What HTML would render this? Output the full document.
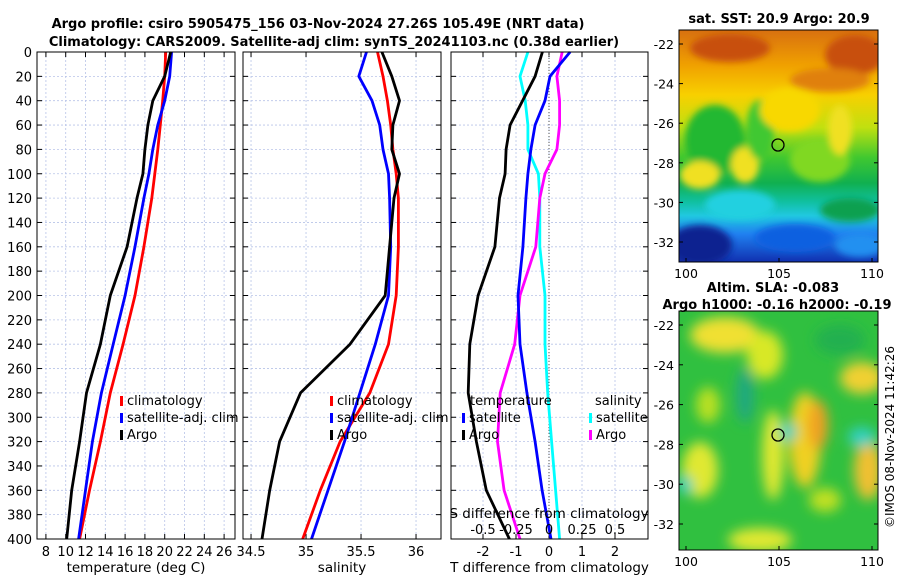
<!DOCTYPE html>
<html><head><meta charset="utf-8"><style>
body{margin:0;background:#fff;width:900px;height:580px;overflow:hidden;font-family:"Liberation Sans","DejaVu Sans",sans-serif}
svg text{font-family:"DejaVu Sans","Liberation Sans",sans-serif}
</style></head><body>
<svg id="chart" width="900" height="580" xmlns="http://www.w3.org/2000/svg">
<defs>
<filter id="blur1" x="-20%" y="-20%" width="140%" height="140%"><feGaussianBlur stdDeviation="3.5"/></filter>
<filter id="blur2" x="-20%" y="-20%" width="140%" height="140%"><feGaussianBlur stdDeviation="6"/></filter>
<clipPath id="c1"><rect x="679" y="30" width="199" height="232"/></clipPath>
<clipPath id="c2"><rect x="679" y="311" width="199" height="239"/></clipPath>
<linearGradient id="sstg" x1="0" y1="0" x2="0" y2="1">
<stop offset="0" stop-color="#d87010"/><stop offset="0.15" stop-color="#f0a000"/><stop offset="0.28" stop-color="#f8d000"/>
<stop offset="0.42" stop-color="#c0e010"/><stop offset="0.55" stop-color="#40c830"/><stop offset="0.66" stop-color="#10b050"/>
<stop offset="0.74" stop-color="#10c0a0"/><stop offset="0.8" stop-color="#20c8e0"/><stop offset="0.88" stop-color="#2080f0"/><stop offset="1" stop-color="#1030b0"/>
</linearGradient>
</defs>
<text x="318" y="28" text-anchor="middle" font-size="13" font-weight="bold">Argo profile: csiro 5905475_156 03-Nov-2024 27.26S 105.49E (NRT data)</text>
<text x="334" y="46" text-anchor="middle" font-size="13" font-weight="bold">Climatology: CARS2009. Satellite-adj clim: synTS_20241103.nc (0.38d earlier)</text>
<g id="panels"></g>
<g clip-path="url(#c1)">
<rect x="679" y="30" width="199" height="232" fill="url(#sstg)"/>
<g filter="url(#blur1)">
<ellipse cx="715" cy="140" rx="30" ry="35" fill="#20b830"/>
<ellipse cx="700" cy="175" rx="20" ry="14" fill="#f0e020"/>
<ellipse cx="745" cy="165" rx="14" ry="18" fill="#f0e020"/>
<ellipse cx="760" cy="130" rx="14" ry="30" fill="#40c830"/>
<ellipse cx="820" cy="160" rx="30" ry="22" fill="#80d820"/>
<ellipse cx="840" cy="130" rx="12" ry="25" fill="#f0e020"/>
<ellipse cx="790" cy="110" rx="30" ry="22" fill="#f8d800"/>
<ellipse cx="730" cy="48" rx="40" ry="14" fill="#c85010"/>
<ellipse cx="855" cy="55" rx="30" ry="20" fill="#c85010"/>
<ellipse cx="830" cy="80" rx="40" ry="12" fill="#e08008"/>
<ellipse cx="740" cy="205" rx="35" ry="15" fill="#20d0e0"/>
<ellipse cx="795" cy="238" rx="40" ry="14" fill="#1060e0"/>
<ellipse cx="700" cy="245" rx="32" ry="20" fill="#0a2090"/>
<ellipse cx="850" cy="210" rx="30" ry="12" fill="#10a050"/>
<ellipse cx="860" cy="245" rx="25" ry="12" fill="#2090f0"/>
</g>
</g>
<rect x="679" y="30" width="199" height="232" fill="none" stroke="#000" stroke-width="1"/>
<circle cx="778" cy="145" r="6" fill="none" stroke="#000" stroke-width="1.3"/>
<text x="779" y="23" text-anchor="middle" font-size="13" font-weight="bold">sat. SST: 20.9 Argo: 20.9</text>
<g clip-path="url(#c2)">
<rect x="679" y="311" width="199" height="239" fill="#30c040"/>
<g filter="url(#blur2)">
<ellipse cx="725" cy="335" rx="35" ry="18" fill="#f0e030"/>
<ellipse cx="765" cy="355" rx="18" ry="24" fill="#d8e828"/>
<ellipse cx="700" cy="470" rx="18" ry="28" fill="#e0e830"/>
<ellipse cx="708" cy="405" rx="12" ry="18" fill="#b8e020"/>
<ellipse cx="773" cy="455" rx="11" ry="45" fill="#e0e830"/>
<ellipse cx="805" cy="440" rx="16" ry="48" fill="#f0d020"/>
<ellipse cx="818" cy="425" rx="10" ry="25" fill="#f0a020"/>
<ellipse cx="862" cy="378" rx="22" ry="16" fill="#f0d030"/>
<ellipse cx="868" cy="470" rx="14" ry="30" fill="#f0c030"/>
<ellipse cx="760" cy="540" rx="32" ry="12" fill="#e0e830"/>
<ellipse cx="825" cy="500" rx="16" ry="12" fill="#c0e020"/>
<ellipse cx="745" cy="395" rx="9" ry="28" fill="#20a880"/>
<ellipse cx="788" cy="432" rx="9" ry="9" fill="#30d0c0"/>
<ellipse cx="862" cy="437" rx="14" ry="10" fill="#30d0c0"/>
<ellipse cx="685" cy="485" rx="8" ry="9" fill="#30d0c0"/>
<ellipse cx="840" cy="340" rx="25" ry="15" fill="#20b050"/>
</g>
</g>
<rect x="679" y="311" width="199" height="239" fill="none" stroke="#000" stroke-width="1"/>
<circle cx="778" cy="435" r="6" fill="none" stroke="#000" stroke-width="1.3"/>
<text x="773" y="292" text-anchor="middle" font-size="13" font-weight="bold">Altim. SLA: -0.083</text>
<text x="777" y="309" text-anchor="middle" font-size="13" font-weight="bold">Argo h1000: -0.16 h2000: -0.19</text>
<text transform="translate(894,437) rotate(-90)" text-anchor="middle" font-size="12">©IMOS 08-Nov-2024 11:42:26</text>
<g id="maps"></g>
</svg>
<script>
const depthT = [0,20,40,60,80,100,120,160,200,240,280,320,360,400];
const tempClim = [20.1,20.0,19.8,19.55,19.3,19.0,18.7,17.9,17.0,15.8,14.5,13.5,12.4,11.4];
const tempSat  = [20.7,20.5,20.0,19.3,18.8,18.4,17.9,17.0,16.0,14.8,13.6,12.7,12.0,11.3];
const tempArgo = [20.6,20.0,18.8,18.3,18.0,17.8,17.2,16.2,14.5,13.5,12.1,11.4,10.6,10.1];
const salClim = [35.65,35.70,35.74,35.77,35.79,35.82,35.84,35.84,35.82,35.75,35.58,35.31,35.13,34.97];
const salSat  = [35.55,35.48,35.60,35.67,35.70,35.75,35.76,35.77,35.75,35.63,35.49,35.35,35.20,35.05];
const salArgo = [35.69,35.78,35.85,35.79,35.78,35.85,35.80,35.76,35.72,35.40,34.95,34.76,34.67,34.60];
const tDiffSat  = [0.64,0.03,-0.12,-0.42,-0.55,-0.64,-0.70,-0.79,-0.94,-0.88,-0.67,-0.42,-0.21,0.06];
const tDiffArgo = [-0.2,-0.42,-0.8,-1.18,-1.3,-1.33,-1.5,-1.64,-2.15,-2.4,-2.45,-2.2,-1.9,-1.2];
const sDiffSat  = [-0.16,-0.22,-0.18,-0.16,-0.16,-0.08,-0.07,-0.07,-0.03,-0.03,-0.01,0.02,0.05,0.08];
const sDiffArgo = [0.1,0.06,0.08,0.08,0.06,-0.03,-0.07,-0.10,-0.22,-0.26,-0.37,-0.39,-0.34,-0.22];
const depthTicks = [0,20,40,60,80,100,120,140,160,180,200,220,240,260,280,300,320,340,360,380,400];
const tempTicks = [8,10,12,14,16,18,20,22,24,26];
const salTicks = [34.5,35,35.5,36];
const salTickLabels = ['34.5','35','35.5','36'];
const tdTicks = [-2,-1,0,1,2];
const sdTicks = [-0.5,-0.25,0,0.25,0.5];
const lonTicks = [100,105,110];
const latTicks = [-22,-24,-26,-28,-30,-32];

const NS='http://www.w3.org/2000/svg';
const Y0=52, Y1=539;
const yD = d => Y0 + (d/400)*(Y1-Y0);
function mk(tag, attrs, parent, text){const e=document.createElementNS(NS,tag);for(const k in attrs)e.setAttribute(k,attrs[k]);if(text!==undefined)e.textContent=text;parent.appendChild(e);return e;}
const G=document.getElementById('panels');
const panels=[
 {x0:37,x1:235,min:7.1,max:27.1,ticks:tempTicks,labels:tempTicks.map(String),xlabel:'temperature (deg C)',name:'temperature'},
 {x0:243,x1:441,min:34.427,max:36.227,ticks:salTicks,labels:salTickLabels,xlabel:'salinity',name:'salinity'},
 {x0:451,x1:648,min:-2.97,max:3.0,ticks:tdTicks,labels:tdTicks.map(String),xlabel:'T difference from climatology',name:'difference'}
];
panels.forEach((p,i)=>{
  p.sx = v => p.x0 + (v-p.min)/(p.max-p.min)*(p.x1-p.x0);
  const g=mk('g',{},G);
  
  
  depthTicks.forEach(d=>{
    const l=mk('line',{x1:p.x0,x2:p.x1,y1:yD(d),y2:yD(d),stroke:'#b8c4e8','stroke-width':0.8,'stroke-dasharray':'2,2'},g);
    
    
    mk('line',{x1:p.x0,x2:p.x0+5,y1:yD(d),y2:yD(d),stroke:'#000'},g);
    mk('line',{x1:p.x1,x2:p.x1-5,y1:yD(d),y2:yD(d),stroke:'#000'},g);
    if(i===0){const t=mk('text',{x:p.x0-5,y:yD(d)+5,'text-anchor':'end','font-size':13},g,String(d));
      
      }
  });
  p.ticks.forEach((v,k)=>{
    const x=p.sx(v);
    const l=mk('line',{x1:x,x2:x,y1:Y0,y2:Y1,stroke:'#b8c4e8','stroke-width':0.8,'stroke-dasharray':'2,2'},g);
    
    
    mk('line',{x1:x,x2:x,y1:Y1,y2:Y1-5,stroke:'#000'},g);
    mk('line',{x1:x,x2:x,y1:Y0,y2:Y0+5,stroke:'#000'},g);
    const t=mk('text',{x:x,y:Y1+17,'text-anchor':'middle','font-size':13},g,p.labels[k]);
    
    
  });
  const xl=mk('text',{x:(p.x0+p.x1)/2,y:572,'text-anchor':'middle','font-size':13.5},g,p.xlabel);
  
  
  p.g=g;
});
function line(p,vals,depths,color,name,fn){
  const sx=fn||p.sx;
  const pts=vals.map((v,i)=>sx(v).toFixed(1)+','+yD(depths[i]).toFixed(1)).join(' ');
  const e=mk('polyline',{points:pts,fill:'none',stroke:color,'stroke-width':2.8,'stroke-linejoin':'round'},p.g);
  
  
}
const P0=panels[0],P1=panels[1],P2=panels[2];
const zl=mk('line',{x1:P2.sx(0),x2:P2.sx(0),y1:Y0,y2:Y1,stroke:'#555','stroke-width':1,'stroke-dasharray':'1,2'},P2.g);


line(P0,tempClim,depthT,'#ff0000','temp-climatology-line');
line(P0,tempSat,depthT,'#0000ff','temp-satellite-line');
line(P0,tempArgo,depthT,'#000','temp-argo-line');
line(P1,salClim,depthT,'#ff0000','sal-climatology-line');
line(P1,salSat,depthT,'#0000ff','sal-satellite-line');
line(P1,salArgo,depthT,'#000','sal-argo-line');
const sdx = v => P2.sx(v*4);
line(P2,sDiffSat,depthT,'#00ffff','sdiff-satellite-line',sdx);
line(P2,sDiffArgo,depthT,'#ff00ff','sdiff-argo-line',sdx);
line(P2,tDiffSat,depthT,'#0000ff','tdiff-satellite-line');
line(P2,tDiffArgo,depthT,'#000','tdiff-argo-line');
sdTicks.forEach(v=>{
  const t=mk('text',{x:sdx(v),y:534,'text-anchor':'middle','font-size':13},P2.g,String(v));
  
  
});
const st=mk('text',{x:549,y:518,'text-anchor':'middle','font-size':13.5},P2.g,'S difference from climatology');


function leg(g,x,y,color,label){
  const r=mk('rect',{x:x,y:y-9,width:3,height:10,fill:color},g);
  
  
  const t=mk('text',{x:x+7,y:y,'font-size':13},g,label);
  
  
}
leg(P0.g,120,405,'#ff0000','climatology');leg(P0.g,120,422,'#0000ff','satellite-adj. clim');leg(P0.g,120,439,'#000','Argo');
leg(P1.g,330,405,'#ff0000','climatology');leg(P1.g,330,422,'#0000ff','satellite-adj. clim');leg(P1.g,330,439,'#000','Argo');
const lt=mk('text',{x:470,y:405,'font-size':13},P2.g,'temperature');


const ls=mk('text',{x:595,y:405,'font-size':13},P2.g,'salinity');


leg(P2.g,462,422,'#0000ff','satellite');leg(P2.g,462,439,'#000','Argo');
leg(P2.g,589,422,'#00ffff','satellite');leg(P2.g,589,439,'#ff00ff','Argo');
panels.forEach(p=>{
  const f=mk('rect',{x:p.x0,y:Y0,width:p.x1-p.x0,height:Y1-Y0,fill:'none',stroke:'#000','stroke-width':1},p.g);
  
  
});
const M=document.getElementById('maps');
const lonX = v => 686 + (v-100)*18.6;
[[30,262,44,242],[311,550,325,524]].forEach(([top,bot,ya,yb])=>{
  const latY = v => ya + (v+22)/(-10)*(yb-ya);
  lonTicks.forEach(v=>{
    mk('line',{x1:lonX(v),x2:lonX(v),y1:bot,y2:bot-4,stroke:'#000'},M);
    const t=mk('text',{x:lonX(v),y:bot+16,'text-anchor':'middle','font-size':12.5},M,String(v));
    
    
  });
  latTicks.forEach(v=>{
    mk('line',{x1:679,x2:683,y1:latY(v),y2:latY(v),stroke:'#000'},M);
    mk('line',{x1:878,x2:874,y1:latY(v),y2:latY(v),stroke:'#000'},M);
    const t=mk('text',{x:674,y:latY(v)+5,'text-anchor':'end','font-size':12.5},M,String(v));
    
    
  });
});
</script>
</body></html>
